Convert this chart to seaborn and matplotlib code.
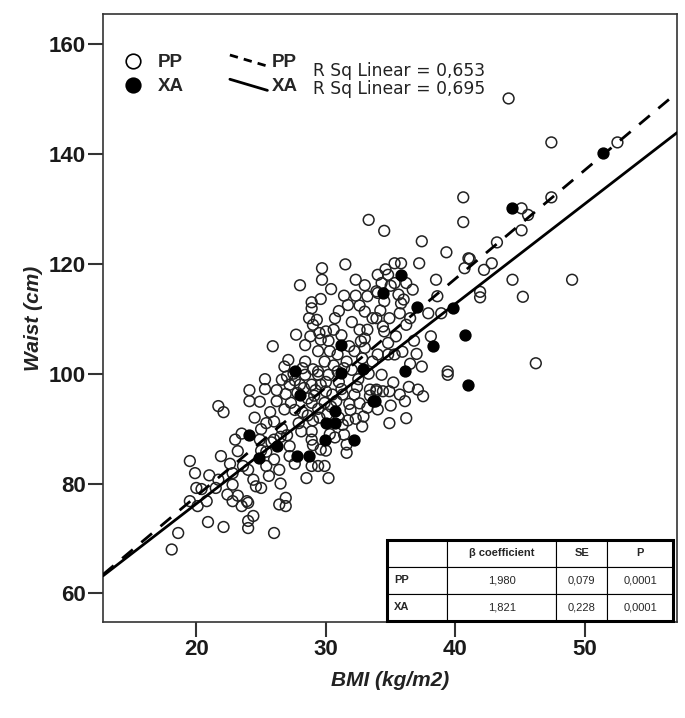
import numpy as np
import pandas as pd
import matplotlib
matplotlib.use("Agg")
import matplotlib.pyplot as plt
import seaborn as sns
from matplotlib.lines import Line2D
from matplotlib.patches import Rectangle

# values
pp_bmi = [25.3, 24.1, 25.3, 26.2, 26.6, 24.1, 24.9, 26.2, 25.7, 21.7, 22.1, 23.5, 25.0, 25.4, 26.0,
          24.9, 23.2, 21.9, 19.5, 19.9, 21.0, 21.7, 22.8, 23.6, 24.0, 25.4, 26.0, 26.4, 20.0, 20.4,
          21.5, 22.8, 22.4, 23.2, 23.9, 24.4, 24.6, 25.0, 19.5, 20.1, 20.8, 22.8, 23.5, 24.0, 26.4,
          24.4, 24.0, 24.0, 20.9, 22.1, 18.6, 18.1, 26.0, 25.8, 26.5, 25.0, 26.6, 24.5, 26.8,
          25.9, 26.8,
          33.3, 31.5, 29.7, 29.7, 28.0, 32.3, 33.0, 31.4, 32.3, 33.2, 33.9, 28.9, 28.9, 31.7, 33.0,
          33.6, 28.7, 29.3, 30.7, 29.0, 32.6, 33.2, 27.7, 28.4, 29.5, 30.0, 30.6, 29.6, 31.8, 32.7,
          29.4, 30.3, 30.9, 32.2, 33.0, 27.1, 28.4, 29.9, 31.6, 33.6, 29.4, 30.9, 32.0,
          28.4, 29.4, 30.2, 27.2, 28.0, 28.9, 29.6, 30.5, 31.3, 32.2, 33.4, 33.9, 27.3, 28.9, 29.9,
          31.7, 32.3, 32.9, 31.3, 28.1, 28.9, 31.4, 31.6, 28.9, 29.6, 31.6, 27.2, 27.2, 28.9, 29.4,
          29.9, 28.5, 30.2, 26.9, 26.9,
          27.8, 28.6, 29.2, 30.0, 27.5, 28.2, 29.5, 30.4, 31.0, 32.5, 31.8, 27.9, 30.3, 29.0,
          40.6, 34.5, 37.4, 39.3, 41.0, 40.7, 37.2, 35.3, 35.8, 34.0, 34.8, 38.5, 34.3, 35.3, 36.2,
          34.0, 36.7, 35.6, 38.6, 34.5, 35.8, 33.9, 34.9, 35.7, 36.5, 37.9, 38.9, 34.5, 36.2, 38.1,
          34.8, 34.0, 34.8, 35.3, 35.9, 37.4, 39.4, 34.6, 35.0, 36.0, 34.2,
          34.3, 39.4, 33.9, 34.4, 34.9, 35.7, 36.1, 37.1, 37.5, 34.0, 34.9, 36.2,
          44.1, 47.4, 52.5, 40.6, 45.1, 45.6, 45.1, 47.4, 43.2, 41.1, 42.2, 42.8, 44.4, 49.0,
          41.9, 41.9, 45.2, 46.2,
          28.2, 29.0, 30.6, 31.4, 32.8, 33.3, 32.4, 31.2, 30.0, 29.1, 28.3, 27.6, 26.9, 27.0,
          30.8, 31.9, 32.6, 33.2, 29.4, 28.6, 27.6, 30.1, 31.0, 30.7, 29.0, 30.0, 32.8, 33.4,
          35.2, 36.4, 35.0, 33.0, 31.2, 30.2, 28.8, 32.0, 31.0, 29.6, 30.4, 32.6, 34.4, 35.4,
          36.8, 37.0, 36.5, 26.0, 25.4, 27.0, 26.5, 25.6, 27.6, 23.0, 22.6]
pp_waist = [99.0, 97.0, 97.2, 97.0, 98.9, 95.0, 94.9, 95.0, 93.0, 94.1, 93.0, 89.1, 89.9, 91.0, 91.3,
            88.0, 85.9, 85.0, 84.1, 81.9, 81.5, 80.7, 81.9, 83.2, 82.5, 83.2, 84.4, 82.5, 79.2, 79.0,
            79.2, 79.8, 78.0, 77.8, 76.8, 80.7, 79.5, 79.2, 76.8, 75.9, 76.8, 76.8, 75.9, 76.5, 76.2,
            74.1, 73.2, 71.9, 73.0, 72.1, 71.0, 68.0, 71.0, 87.5, 88.5, 86.0, 90.0, 92.0, 93.5,
            105.0, 101.3,
            128.0, 119.9, 119.2, 117.1, 116.1, 117.1, 116.1, 114.2, 114.2, 114.1, 115.0, 113.0, 111.9, 112.5, 111.3,
            110.1, 110.1, 109.8, 110.1, 108.9, 108.0, 108.0, 107.1, 105.2, 107.4, 107.7, 108.0, 106.2, 105.0, 105.9,
            104.1, 104.1, 103.5, 104.1, 104.7, 102.5, 102.2, 102.2, 102.2, 102.2, 100.4, 100.4, 100.7,
            99.8, 99.8, 99.8, 98.0, 98.0, 98.0, 98.0, 96.2, 96.2, 96.2, 97.1, 97.1, 94.7, 94.7, 94.7,
            91.5, 91.8, 92.2, 90.7, 89.5, 89.5, 88.9, 87.1, 88.0, 86.2, 85.6, 86.8, 85.0, 83.2, 83.2,
            83.2, 81.0, 81.0, 77.4, 75.9,
            96.5, 95.5, 97.0, 98.5, 100.0, 93.0, 92.0, 94.0, 98.5, 99.0, 94.5, 91.0, 89.0, 91.5,
            127.6, 126.0, 124.1, 122.1, 121.0, 119.2, 120.1, 120.1, 120.1, 118.0, 118.0, 117.1, 116.5, 116.5, 116.5,
            114.7, 115.3, 114.4, 114.1, 113.2, 112.8, 110.1, 110.1, 111.0, 110.1, 111.0, 111.0, 107.7, 108.9, 106.8,
            105.6, 103.5, 103.5, 103.5, 104.0, 101.3, 100.4, 119.0, 116.0, 113.5, 111.5,
            99.8, 99.8, 96.8, 96.8, 96.8, 96.2, 95.0, 97.1, 95.9, 93.5, 91.0, 91.9,
            150.1, 142.1, 142.1, 132.1, 130.1, 128.9, 126.1, 132.1, 123.9, 120.9, 118.9, 120.1, 117.1, 117.1,
            114.9, 113.9, 114.0, 101.9,
            101.0, 100.8, 101.5, 101.0, 102.8, 100.0, 97.6, 97.2, 96.8, 96.0, 97.4, 98.8, 96.3, 99.5,
            95.0, 93.4, 94.6, 93.8, 93.6, 92.4, 93.4, 92.6, 92.0, 88.4, 87.0, 86.0, 90.4, 96.0,
            98.4, 97.6, 94.2, 106.4, 107.0, 106.0, 106.8, 109.4, 111.4, 113.6, 115.4, 112.4, 108.6, 106.8,
            106.0, 103.6, 101.8, 88.0, 85.8, 88.8, 80.0, 81.4, 83.6, 88.0, 83.6]

xa_bmi = [24.1, 26.2, 24.8, 31.2, 27.6, 32.9, 31.2, 28.0, 33.6, 30.7, 30.0, 30.7, 29.9, 32.2,
          27.8, 28.7, 35.8, 34.4, 37.0, 39.8, 38.3, 40.7, 36.1, 41.0, 33.8, 44.4, 51.4]
xa_waist = [88.9, 86.8, 84.7, 105.3, 100.4, 100.9, 100.1, 96.2, 95.0, 93.2, 91.0, 91.0, 88.0, 88.0,
            85.0, 85.0, 118.0, 114.7, 112.2, 111.9, 105.0, 107.1, 100.4, 98.0, 95.0, 130.1, 140.1]

groups = ["PP", "XA"]
slopes = [1.980, 1.821]
intercepts = [38.1, 39.9]
r_sq = ["0,653", "0,695"]

tab_cols = ["", "\u03b2 coefficient", "SE", "P"]
tab_rows = [["PP", "1,980", "0,079", "0,0001"],
            ["XA", "1,821", "0,228", "0,0001"]]

df = pd.concat([pd.DataFrame({"BMI": pp_bmi, "Waist": pp_waist, "group": "PP"}),
                pd.DataFrame({"BMI": xa_bmi, "Waist": xa_waist, "group": "XA"})],
               ignore_index=True)

sns.set_style("white")
plt.rcParams["font.family"] = ["Liberation Sans", "DejaVu Sans"]

fig = plt.figure(figsize=(6.85, 7.18), dpi=100)
ax = fig.add_axes([0.1504, 0.1337, 0.838, 0.847])

sns.scatterplot(data=df[df.group == "PP"], x="BMI", y="Waist", ax=ax, s=60,
                facecolor="none", edgecolor="#222222", linewidth=1.1, legend=False, zorder=3)
sns.scatterplot(data=df[df.group == "XA"], x="BMI", y="Waist", ax=ax, s=60,
                color="black", edgecolor="black", linewidth=1.1, legend=False, zorder=4)

xlim = (12.8, 57.1)
xs = np.array(xlim)
ax.plot(xs, intercepts[0] + slopes[0] * xs, color="black", lw=2, ls=(0, (5, 4)), zorder=5)
ax.plot(xs, intercepts[1] + slopes[1] * xs, color="black", lw=2, zorder=5)

ax.set_xlim(*xlim)
ax.set_ylim(54.8, 165.5)
ax.set_xticks([20, 30, 40, 50])
ax.set_yticks([60, 80, 100, 120, 140, 160])
ax.tick_params(bottom=True, left=True, direction="out", length=11, width=1.5, pad=1.5,
               color="#333333", labelsize=16)
for lab in ax.get_xticklabels() + ax.get_yticklabels():
    lab.set_fontweight("bold")
    lab.set_color("#1a1a1a")
for sp in ax.spines.values():
    sp.set_color("#333333")
    sp.set_linewidth(1.2)

ax.set_xlabel("BMI (kg/m2)", fontsize=15, fontweight="bold", fontstyle="italic", color="#222222", labelpad=8)
ax.set_ylabel("Waist (cm)", fontsize=15, fontweight="bold", fontstyle="italic", color="#222222", labelpad=4)

# legends
mk = [Line2D([], [], marker="o", ls="", mfc="white", mec="black", ms=10.5, mew=1.2),
      Line2D([], [], marker="o", ls="", mfc="black", mec="black", ms=10.5, mew=1.2)]
leg1 = ax.legend(mk, groups, loc="upper left", bbox_to_anchor=(0.02, 0.934), frameon=False,
                 prop={"weight": "bold", "size": 13.5}, handletextpad=0.3, labelspacing=0.38,
                 borderaxespad=0, borderpad=0)
ax.add_artist(leg1)
ln = [Line2D([], [], color="black", lw=2, ls=(0, (3, 2.2))),
      Line2D([], [], color="black", lw=2)]
leg2 = ax.legend(ln, groups, loc="upper left", bbox_to_anchor=(0.221, 0.934), frameon=False,
                 prop={"weight": "bold", "size": 13.5}, handlelength=2.0, handletextpad=0.25,
                 labelspacing=0.38, borderaxespad=0, borderpad=0)
for h in leg2.get_lines():
    yd = np.asarray(h.get_ydata(), dtype=float)
    h.set_ydata(np.linspace(yd[0] + 4, yd[0] - 4, len(yd)))
for i, r in enumerate(r_sq):
    ax.text(0.366, 0.906 - i * 0.03, "R Sq Linear = " + r, transform=ax.transAxes,
            fontsize=12.3, family="DejaVu Sans", va="center", color="#222222")

# coefficient table
tb = ax.table(cellText=tab_rows, colLabels=tab_cols, cellLoc="center",
              colWidths=[0.209, 0.383, 0.178, 0.230], bbox=[0.495, 0.002, 0.498, 0.133],
              zorder=10)
tb.auto_set_font_size(False)
for (r, c), cell in tb.get_celld().items():
    cell.set_linewidth(0.8)
    cell.set_edgecolor("black")
    cell.set_facecolor("white")
    cell.get_text().set_fontsize(8)
    if r == 0 or c == 0:
        cell.get_text().set_fontweight("bold")
    if c == 0:
        cell.get_text().set_ha("left")
        cell.PAD = 0.12
ax.add_patch(Rectangle((0.495, 0.002), 0.498, 0.133, transform=ax.transAxes, fill=False,
                       lw=2.2, ec="black", zorder=11, clip_on=False))

fig.savefig("out.png", dpi=100)
